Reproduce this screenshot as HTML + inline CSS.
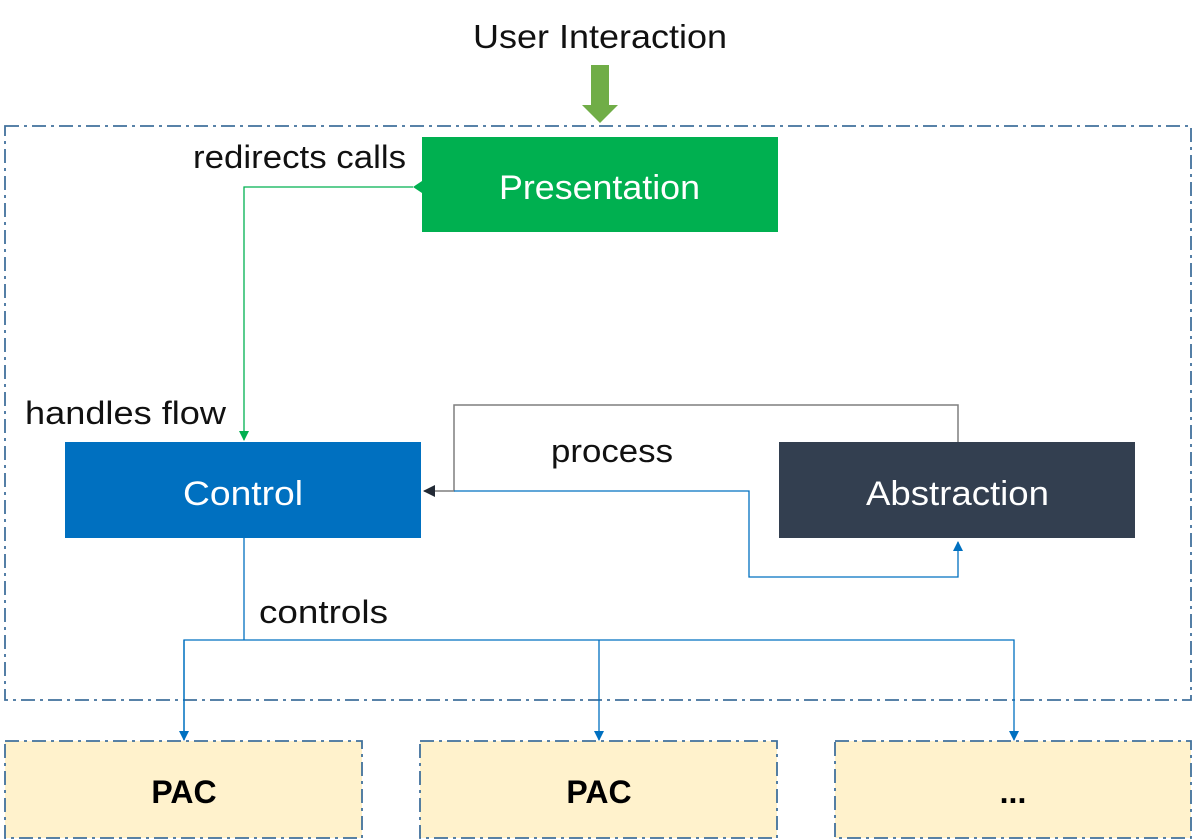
<!DOCTYPE html>
<html><head><meta charset="utf-8"><style>
html,body{margin:0;padding:0;background:#fff;}
svg{display:block;font-family:"Liberation Sans",sans-serif;}
</style></head><body>
<svg width="1193" height="840" viewBox="0 0 1193 840" xmlns="http://www.w3.org/2000/svg">
<defs>
<marker id="ab" markerWidth="10" markerHeight="10" refX="9" refY="5" orient="auto" markerUnits="userSpaceOnUse"><path d="M0,0 L10,5 L0,10 z" fill="#0070c0"/></marker>
<marker id="ag" markerWidth="10" markerHeight="10" refX="9" refY="5" orient="auto" markerUnits="userSpaceOnUse"><path d="M0,0 L10,5 L0,10 z" fill="#00b050"/></marker>
<marker id="ak" markerWidth="12" markerHeight="12" refX="11" refY="6" orient="auto" markerUnits="userSpaceOnUse"><path d="M0,0 L12,6 L0,12 z" fill="#222a35"/></marker>
</defs>
<text x="473" y="48" font-size="33" textLength="254" lengthAdjust="spacingAndGlyphs" fill="#111">User Interaction</text>
<path d="M591,65 H609 V105 H618 L600,123 L582,105 H591 Z" fill="#70ad47"/>
<rect x="5" y="126" width="1186" height="574" fill="none" stroke="#41719c" stroke-width="1.8" stroke-dasharray="14,5,3,5"/>
<rect x="422" y="137" width="356" height="95" fill="#00b050"/>
<text x="499" y="199" font-size="34" textLength="201" lengthAdjust="spacingAndGlyphs" fill="#fff">Presentation</text>
<path d="M413,187 H244 V440" fill="none" stroke="#00b050" stroke-width="1.3" marker-end="url(#ag)"/>
<path d="M413,187 L422,181 L422,193 Z" fill="#00b050"/>
<text x="193" y="168" font-size="32" textLength="213" lengthAdjust="spacingAndGlyphs" fill="#111">redirects calls</text>
<text x="25" y="424" font-size="32" textLength="201" lengthAdjust="spacingAndGlyphs" fill="#111">handles flow</text>
<rect x="65" y="442" width="356" height="96" fill="#0070c0"/>
<text x="183" y="505" font-size="34" textLength="120" lengthAdjust="spacingAndGlyphs" fill="#fff">Control</text>
<rect x="779" y="442" width="356" height="96" fill="#333f50"/>
<text x="866" y="505" font-size="34" textLength="183" lengthAdjust="spacingAndGlyphs" fill="#fff">Abstraction</text>
<path d="M958,442 V405 H454 V491 H424" fill="none" stroke="#7f7f7f" stroke-width="1.5" marker-end="url(#ak)"/>
<path d="M454,491 H749 V577 H958 V542" fill="none" stroke="#0070c0" stroke-width="1.3" marker-end="url(#ab)"/>
<text x="551" y="462" font-size="32" textLength="122" lengthAdjust="spacingAndGlyphs" fill="#111">process</text>
<path d="M244,538 V640" fill="none" stroke="#0070c0" stroke-width="1.3"/>
<path d="M184,740 V640 H1014 V740" fill="none" stroke="#0070c0" stroke-width="1.3" marker-end="url(#ab)"/>
<path d="M184,640 V740" fill="none" stroke="#0070c0" stroke-width="1.3" marker-end="url(#ab)"/>
<path d="M599,640 V740" fill="none" stroke="#0070c0" stroke-width="1.3" marker-end="url(#ab)"/>
<text x="259" y="623" font-size="32" textLength="129" lengthAdjust="spacingAndGlyphs" fill="#111">controls</text>
<g fill="#fff2cc" stroke="#41719c" stroke-width="1.8" stroke-dasharray="14,5,3,5">
<rect x="5" y="741" width="357" height="97"/>
<rect x="420" y="741" width="357" height="97"/>
<rect x="835" y="741" width="356" height="97"/>
</g>
<g font-size="32" font-weight="bold" text-anchor="middle" fill="#000">
<text x="184" y="803">PAC</text>
<text x="599" y="803">PAC</text>
<text x="1013" y="803">...</text>
</g>
</svg>
</body></html>
